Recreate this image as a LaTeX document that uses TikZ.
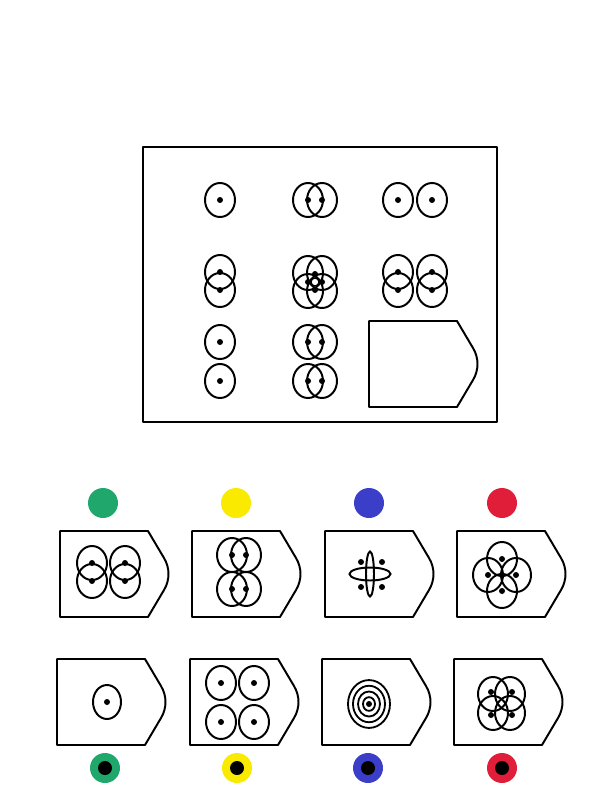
\documentclass[tikz,border=0pt]{standalone}
\usepackage{tikz}
\usetikzlibrary{positioning}

\definecolor{optgreen}{RGB}{32,168,108}
\definecolor{optyellow}{RGB}{250,234,0}
\definecolor{optblue}{RGB}{58,62,200}
\definecolor{optred}{RGB}{224,30,58}

\tikzset{
  ring/.style={line width=2.8pt},
  outline/.style={line width=2.8pt, line join=round},
}

% one ellipse, with or without its centre dot
\newcommand{\puzRing}[2]{\draw[ring] (#1,#2) ellipse (15 and 17);}
\newcommand{\puzDot}[2]{\fill (#1,#2) circle (3);}
\newcommand{\puzEye}[2]{\puzRing{#1}{#2}\puzDot{#1}{#2}}
% answer card, top left corner at (#1,#2)
\newcommand{\puzCard}[2]{%
  \begin{scope}[shift={(#1,#2)}]
    \draw[outline] (0,0) -- (88,0) -- (104,27) .. controls (110,37) and (110,49) .. (104,59) -- (88,86) -- (0,86) -- cycle;
  \end{scope}}

\begin{document}
\begin{tikzpicture}[x=0.05cm, y=-0.05cm]
    \useasboundingbox (0,0) rectangle (600,800);

    % Matrix
    \draw[outline] (143,147) rectangle (497,422);
    % row 1
    \puzEye{220}{200}
    \puzEye{308}{200} \puzEye{322}{200}
    \puzEye{398}{200} \puzEye{432}{200}
    % row 2
    \puzEye{220}{272} \puzEye{220}{290}
    \foreach \x/\y in {308/273, 322/273, 308/291, 322/291} {\puzRing{\x}{\y}}
    \foreach \x/\y in {315/274, 322/282, 315/290, 308/282} {\puzDot{\x}{\y}}
    \draw[line width=2pt] (315,282) circle (4);
    \puzEye{398}{272} \puzEye{398}{290}
    \puzEye{432}{272} \puzEye{432}{290}
    % row 3
    \puzEye{220}{342} \puzEye{220}{381}
    \puzEye{308}{342} \puzEye{322}{342}
    \puzEye{308}{381} \puzEye{322}{381}
    \puzCard{369}{321}

    % Options, first row
    \foreach \x/\c in {103/optgreen, 236/optyellow, 369/optblue, 502/optred}
        \fill[\c] (\x,503) circle (15);
    \puzCard{60}{531}
    \puzEye{92}{563} \puzEye{92}{581}
    \puzEye{125}{563} \puzEye{125}{581}
    \puzCard{192}{531}
    \puzEye{232}{555} \puzEye{246}{555}
    \puzEye{232}{589} \puzEye{246}{589}
    \puzCard{325}{531}
    \draw[ring] (370,574) ellipse (4 and 22.5);
    \draw[ring] (370,574) ellipse (20.5 and 6.5);
    \foreach \x/\y in {361/562, 382/562, 361/587, 382/587} {\puzDot{\x}{\y}}
    \puzCard{457}{531}
    \foreach \x/\y in {502/559, 502/591, 488/575, 516/575} {\puzEye{\x}{\y}}
    \puzDot{502}{575}

    % Options, second row
    \puzCard{57}{659}
    \draw[ring] (107,702) ellipse (14 and 17); \puzDot{107}{702}
    \puzCard{190}{659}
    \foreach \x/\y in {221/683, 254/683, 221/722, 254/722} {\puzEye{\x}{\y}}
    \puzCard{322}{659}
    \foreach \r in {21,16,11,6}
        \draw[line width=2.6pt] (369,704) ellipse ({\r} and {1.14*\r});
    \puzDot{369}{704}
    \puzCard{454}{659}
    \foreach \x/\y in {493/694, 510/694, 493/713, 510/713} {\puzRing{\x}{\y}}
    \foreach \x/\y in {491/692, 512/692, 491/715, 512/715} {\puzDot{\x}{\y}}
    \foreach \x/\c in {105/optgreen, 237/optyellow, 368/optblue, 502/optred} {
        \fill[\c] (\x,768) circle (15);
        \fill (\x,768) circle (7);
    }
\end{tikzpicture}
\end{document}
